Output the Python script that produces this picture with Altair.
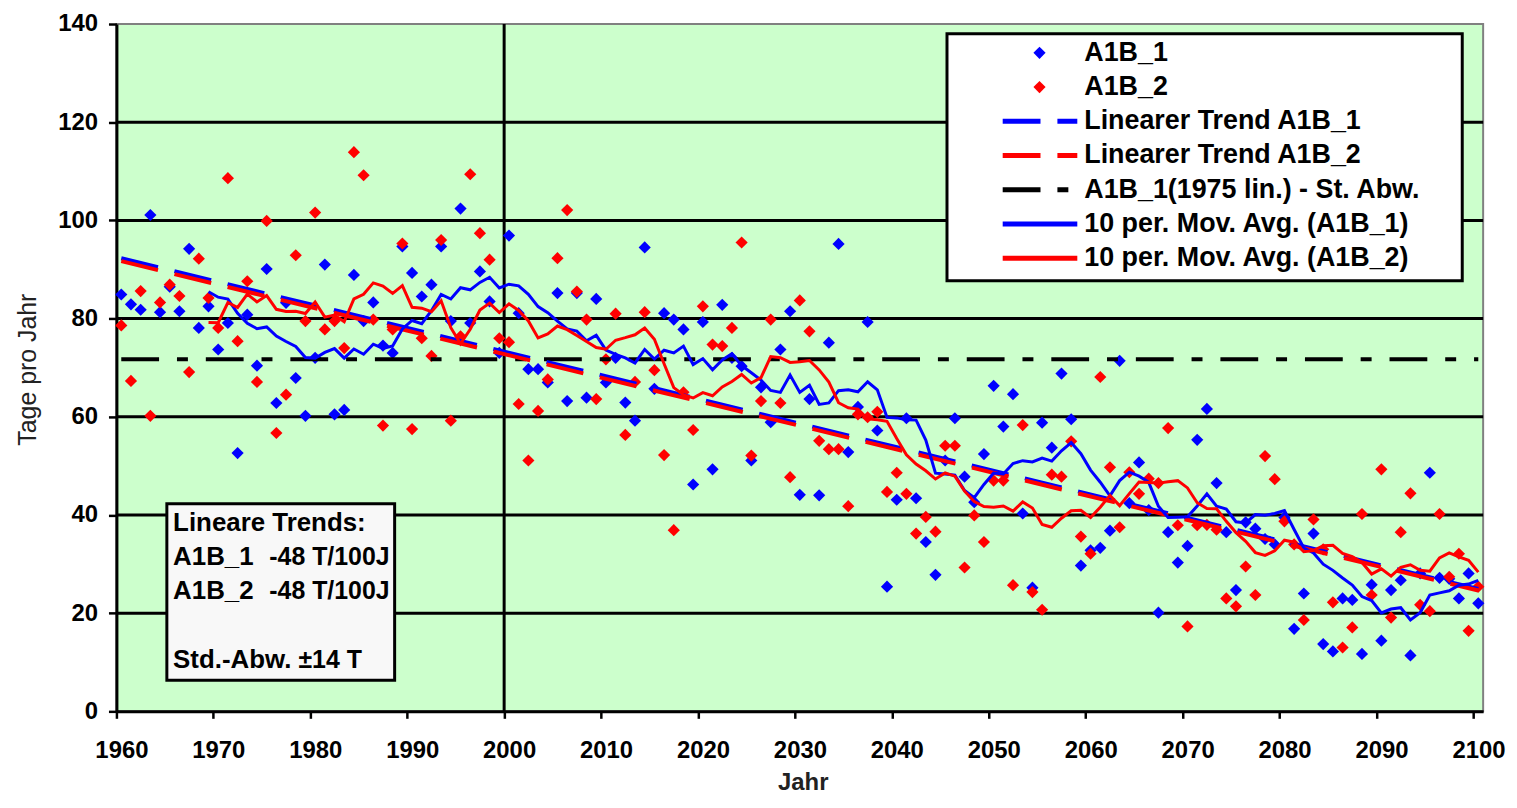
import altair as alt
import pandas as pd

# ---------------- data ----------------
years = list(range(1960, 2101))

a1b_1 = [
    84.9, 82.9, 81.8, 101.1, 81.3, 86.5, 81.5, 94.2, 78.1, 82.5,
    73.7, 79.1, 52.6, 80.8, 70.4, 90.1, 62.8, 83.2, 67.9, 60.2,
    72.0, 91.0, 60.5, 61.4, 88.9, 79.5, 83.3, 74.5, 73.0, 94.7,
    89.3, 84.5, 86.9, 94.7, 79.5, 102.4, 79.1, 89.6, 83.5, 73.0,
    96.9, 81.1, 69.7, 69.7, 67.0, 85.2, 63.2, 85.2, 63.9, 84.0,
    67.0, 72.0, 62.9, 59.2, 94.5, 65.7, 81.1, 79.8, 77.8, 46.2,
    79.3, 49.3, 82.8, 72.0, 70.3, 51.1, 66.0, 58.9, 73.7, 81.5,
    44.1, 63.6, 44.0, 75.1, 95.2, 52.8, 62.0, 79.3, 57.2, 25.4,
    43.1, 59.7, 43.4, 34.5, 27.8, 51.1, 59.7, 47.8, 42.6, 52.4,
    66.3, 58.0, 64.6, 40.3, 25.2, 58.8, 53.7, 68.8, 59.5, 29.7,
    32.8, 33.3, 36.8, 71.4, 42.4, 50.7, 41.0, 20.1, 36.5, 30.3,
    33.7, 55.3, 61.6, 46.5, 36.5, 24.7, 38.5, 37.2, 35.1, 34.0,
    39.5, 16.8, 24.0, 36.2, 13.7, 12.2, 23.0, 22.7, 11.7, 25.8,
    14.4, 24.7, 26.7, 11.4, 28.1, 48.6, 27.2, 27.0, 23.0, 28.1,
    22.0,
]

a1b_2 = [
    78.6, 67.3, 85.6, 60.2, 83.3, 86.9, 84.6, 69.1, 92.2, 84.2,
    78.1, 108.6, 75.4, 87.6, 67.1, 99.9, 56.7, 64.5, 92.9, 79.5,
    101.6, 77.8, 79.5, 74.0, 113.9, 109.2, 79.8, 58.2, 77.8, 95.3,
    57.5, 76.0, 72.4, 96.0, 59.2, 76.4, 109.4, 97.4, 92.0, 76.0,
    75.2, 62.6, 51.1, 61.2, 67.6, 92.3, 102.1, 85.5, 79.8, 63.6,
    71.7, 81.0, 56.3, 67.1, 81.3, 69.5, 52.2, 36.9, 65.0, 57.3,
    82.5, 74.7, 74.4, 78.1, 95.5, 52.1, 63.2, 79.8, 62.8, 47.7,
    83.7, 77.4, 55.1, 53.4, 53.4, 41.8, 60.5, 59.9, 61.0, 44.7,
    48.6, 44.3, 36.2, 39.6, 36.6, 54.1, 54.1, 29.3, 39.9, 34.5,
    47.0, 47.0, 25.7, 58.3, 24.3, 20.7, 48.2, 47.8, 55.0, 35.6,
    32.1, 68.1, 49.7, 37.5, 48.7, 44.3, 47.4, 46.5, 57.7, 37.9,
    17.3, 37.9, 38.0, 37.0, 23.0, 21.4, 29.5, 23.7, 52.0, 47.3,
    38.7, 34.0, 18.6, 39.1, 33.0, 22.2, 13.0, 17.1, 40.2, 23.7,
    49.3, 19.1, 36.5, 44.4, 21.7, 20.4, 40.2, 27.4, 32.1, 16.4,
    25.4,
]

series_names = ["A1B_1", "A1B_2"]
std_line_value = 71.7          # A1B_1 (1975 lin.) - St. Abw.
divider_year = [2000]
x_ticks = list(range(1960, 2101, 10))
y_ticks = list(range(0, 141, 20))
y_grid = [v for v in y_ticks if 0 < v < 140]

legend_labels = [
    "A1B_1",
    "A1B_2",
    "Linearer Trend A1B_1",
    "Linearer Trend A1B_2",
    "A1B_1(1975 lin.) - St. Abw.",
    "10 per. Mov. Avg. (A1B_1)",
    "10 per. Mov. Avg. (A1B_2)",
]
box_title = "Lineare Trends:"
box_rows = [("A1B_1", "-48 T/100J"), ("A1B_2", "-48 T/100J")]
box_std = ("Std.-Abw.", "\u00b114 T")

# ---------------- styles ----------------
BLUE = "#0000FF"
RED = "#FF0000"
FONT = "Liberation Sans"
W, H = 1374, 691

df = pd.DataFrame({
    "year": years * 2,
    "value": a1b_1 + a1b_2,
    "series": [series_names[0]] * len(years) + [series_names[1]] * len(years),
})

xscale = alt.Scale(domain=[1960, 2101], nice=False, zero=False)
yscale = alt.Scale(domain=[0, 140], nice=False, zero=True)
cscale = alt.Scale(domain=series_names, range=[BLUE, RED])

x_axis = alt.Axis(
    values=x_ticks, format="d", title="Jahr",
    labelFont=FONT, labelFontSize=24, labelFontWeight="bold", labelColor="black",
    labelOffset=5, labelPadding=20, labelFlush=False, labelOverlap=False,
    tickSize=7, tickWidth=2.5, tickColor="black",
    domainColor="black", domainWidth=3, grid=False,
    titleFont=FONT, titleFontSize=24, titleFontWeight="bold", titleColor="#222222",
    titleX=690, titleY=60, titleBaseline="top", titleAlign="center",
)
y_axis = alt.Axis(
    values=y_ticks, title="Tage pro Jahr",
    labelFont=FONT, labelFontSize=24, labelFontWeight="bold", labelColor="black",
    labelPadding=11, labelFlush=False, labelOverlap=False,
    tickSize=8, tickWidth=2.5, tickColor="black",
    domainColor="black", domainWidth=3, grid=False,
    titleFont=FONT, titleFontSize=25, titleFontWeight="normal", titleColor="#222222",
    titleAngle=270, titleX=-89, titleY=347, titleAlign="center", titleBaseline="middle",
)


def X(field):
    return alt.X(field, scale=xscale, axis=x_axis)


def Y(field):
    return alt.Y(field, scale=yscale, axis=y_axis)


base = alt.Chart(df).transform_calculate(xpos="datum.year + 0.5")

grid = alt.Chart(pd.DataFrame({"value": y_grid})).mark_rule(
    color="black", strokeWidth=3
).encode(y=Y("value:Q"))

divider = alt.Chart(pd.DataFrame({"year": divider_year})).mark_rule(
    color="black", strokeWidth=3
).encode(x=X("year:Q"))

points = base.mark_point(shape="diamond", filled=True, size=150, opacity=1).encode(
    x=X("xpos:Q"),
    y=Y("value:Q"),
    color=alt.Color("series:N", scale=cscale, legend=None),
)

std_df = pd.DataFrame({"year": [years[0], years[-1]], "value": [std_line_value] * 2})
std_line = alt.Chart(std_df).transform_calculate(xpos="datum.year + 0.5").mark_line(
    color="black", strokeWidth=4, strokeDash=[38, 18, 11, 18]
).encode(x=X("xpos:Q"), y=Y("value:Q"))

trend = base.transform_regression(
    "xpos", "value", groupby=["series"], extent=[years[0] + 0.5, years[-1] + 0.5]
).mark_line(strokeWidth=4, strokeDash=[38, 17]).encode(
    x=X("xpos:Q"),
    y=Y("value:Q"),
    color=alt.Color("series:N", scale=cscale, legend=None),
)

mov_avg = base.transform_window(
    ma="mean(value)", n="count()", frame=[-9, 0], groupby=["series"],
    sort=[alt.SortField("xpos")],
).transform_filter("datum.n == 10").mark_line(strokeWidth=3).encode(
    x=X("xpos:Q"),
    y=Y("ma:Q"),
    color=alt.Color("series:N", scale=cscale, legend=None),
)

# ---------------- legend (manual, Excel style) ----------------
one = pd.DataFrame({"k": [0]})
LX0, LX1, LY0, LY1 = 835, 1353, 9.7, 258
ROW0, ROWSTEP = 29, 34.4
SYM_X, TXT_X = 928, 973
LINE_X0, LINE_X1 = 891, 966

legend_layers = [
    alt.Chart(one).mark_rect(fill="white", stroke="black", strokeWidth=3).encode(
        x=alt.value(LX0), x2=alt.value(LX1), y=alt.value(LY0), y2=alt.value(LY1)
    )
]
styles = [
    ("pt", BLUE, None), ("pt", RED, None),
    ("ln", BLUE, [38, 17]), ("ln", RED, [38, 17]),
    ("ln", "black", [38, 17, 11, 60]),
    ("ln", BLUE, None), ("ln", RED, None),
]
for k, (lab, (kind, col, dash)) in enumerate(zip(legend_labels, styles)):
    yy = ROW0 + ROWSTEP * k
    if kind == "pt":
        legend_layers.append(
            alt.Chart(one).mark_point(shape="diamond", filled=True, size=150, color=col, opacity=1)
            .encode(x=alt.value(SYM_X), y=alt.value(yy))
        )
    else:
        kw = dict(color=col, strokeWidth=5)
        if dash:
            kw["strokeDash"] = dash
        legend_layers.append(
            alt.Chart(one).mark_rule(**kw).encode(
                x=alt.value(LINE_X0), x2=alt.value(LINE_X1), y=alt.value(yy)
            )
        )
    legend_layers.append(
        alt.Chart(one).mark_text(
            text=lab, align="left", baseline="middle", font=FONT, fontSize=27,
            fontWeight="bold", color="black"
        ).encode(x=alt.value(TXT_X), y=alt.value(yy))
    )

# ---------------- trend text box ----------------
BX0, BX1, BY0, BY1 = 50.7, 279.7, 482.3, 659.7
TX_A, TX_B, TX_C = 57, 153.7, 183
box_layers = [
    alt.Chart(one).mark_rect(fill="#F8F8F8", stroke="black", strokeWidth=3).encode(
        x=alt.value(BX0), x2=alt.value(BX1), y=alt.value(BY0), y2=alt.value(BY1)
    )
]
box_items = [(box_title, TX_A, 501.3, 26)]
for j, (a, b) in enumerate(box_rows):
    yy = 535.5 + 34.7 * j
    box_items += [(a, TX_A, yy, 26), (b, TX_B, yy, 25)]
box_items += [(box_std[0], TX_A, 639.7, 26), (box_std[1], TX_C, 639.7, 25)]
for txt, xx, yy, fs in box_items:
    box_layers.append(
        alt.Chart(one).mark_text(
            text=txt, align="left", baseline="middle", font=FONT, fontSize=fs,
            fontWeight="bold", color="black"
        ).encode(x=alt.value(xx), y=alt.value(yy))
    )

chart = alt.layer(
    grid, divider, points, std_line, trend, mov_avg, *legend_layers, *box_layers
).properties(
    width=W, height=H,
    autosize=alt.AutoSizeParams(type="none"),
    padding={"left": 109, "top": 14, "right": 26, "bottom": 82},
).configure(
    font=FONT, background="white"
).configure_view(
    fill="#CCFFCC", stroke="#808080", strokeWidth=2
)

chart.save("out.html", embed_options={"renderer": "svg", "actions": False})
